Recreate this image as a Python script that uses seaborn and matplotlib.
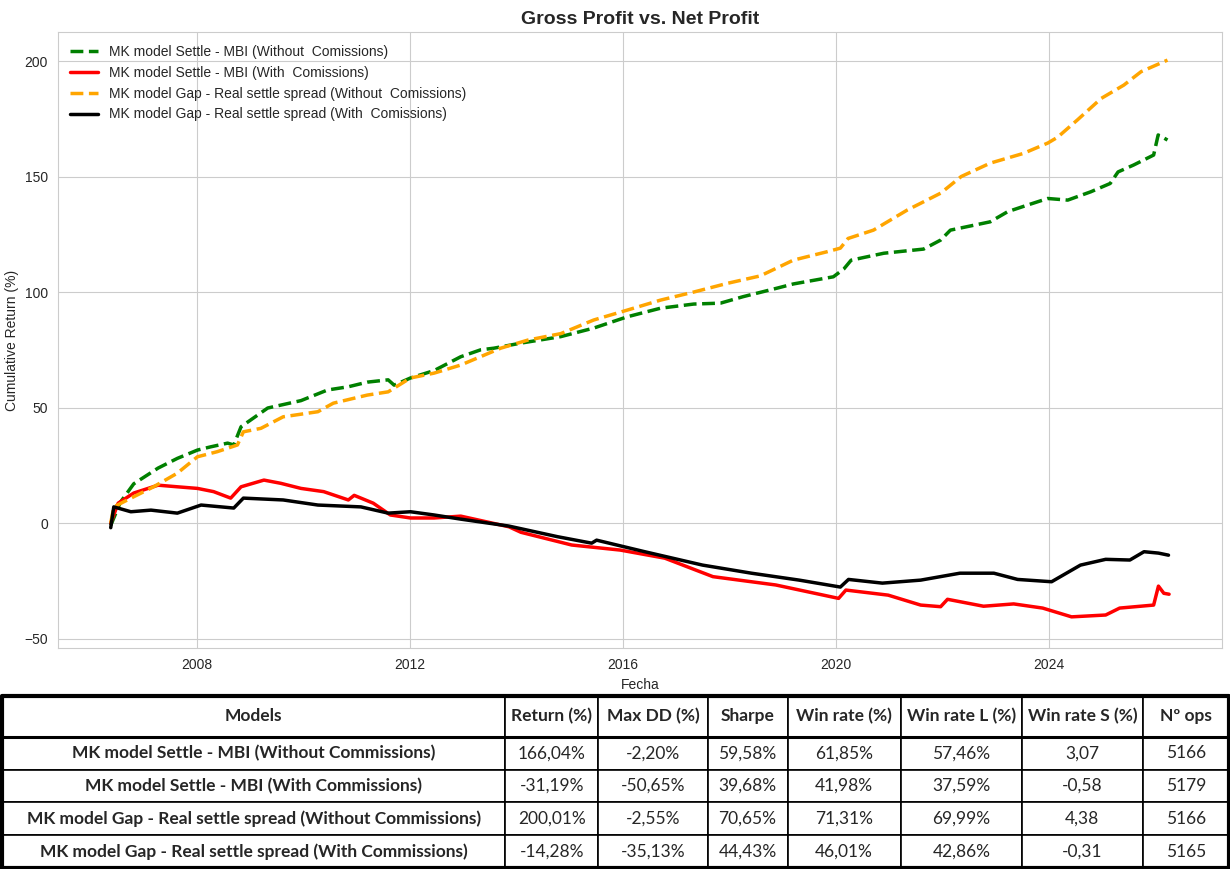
import pandas as pd
import matplotlib.pyplot as plt
import matplotlib.dates as mdates
import seaborn as sns

# Values (cumulative return, %)
settle_gross_dates = ['2006-05-20', '2006-07-25', '2006-10-25', '2007-04-10', '2007-08-20',
                      '2008-01-05', '2008-04-05', '2008-07-30', '2008-09-10', '2008-10-30',
                      '2009-05-01', '2009-12-15', '2010-06-15', '2010-11-05', '2011-03-15',
                      '2011-08-05', '2011-09-15', '2012-01-05', '2012-06-15', '2012-12-15',
                      '2013-05-01', '2013-07-30', '2014-02-01', '2014-11-01', '2015-06-15',
                      '2016-02-01', '2016-09-15', '2017-05-01', '2017-11-01', '2018-04-05',
                      '2018-11-25', '2019-03-15', '2019-12-15', '2020-02-25', '2020-04-15',
                      '2020-11-25', '2021-08-25', '2021-12-20', '2022-02-25', '2022-11-25',
                      '2023-03-25', '2023-08-10', '2023-12-25', '2024-05-10', '2024-10-15',
                      '2025-02-25', '2025-04-20', '2025-08-05', '2025-12-20', '2026-01-20',
                      '2026-02-20', '2026-03-25']
settle_gross = [-1, 9, 17, 23.8, 28, 31.6, 33, 34.6, 33.8, 41.7,
                49.8, 53, 57.6, 59, 61, 62, 59.7, 62.8, 66, 72,
                75, 75.7, 77.9, 80.7, 84.4, 89.3, 93, 94.8, 95.2, 98,
                101.7, 103.5, 106.6, 110, 113.8, 116.8, 118.6, 122.5, 126.8, 130.4,
                134.8, 137.7, 140.5, 139.8, 143.4, 147, 152, 155, 159.3, 168,
                167, 165.8]

settle_net_dates = ['2006-05-20', '2006-07-10', '2006-10-25', '2007-04-10', '2007-08-20',
                    '2008-01-05', '2008-04-25', '2008-08-20', '2008-10-30', '2009-04-05',
                    '2009-07-30', '2009-12-15', '2010-05-20', '2010-11-05', '2010-12-15',
                    '2011-04-25', '2011-08-20', '2012-01-05', '2012-06-15', '2012-12-15',
                    '2013-11-10', '2014-02-01', '2015-01-15', '2015-12-15', '2016-10-15',
                    '2017-09-10', '2018-11-15', '2020-01-20', '2020-03-10', '2020-12-25',
                    '2021-08-05', '2021-12-20', '2022-02-05', '2022-10-10', '2023-05-05',
                    '2023-11-20', '2024-06-05', '2025-01-25', '2025-05-01', '2025-12-20',
                    '2026-01-22', '2026-02-28', '2026-04-05']
settle_net = [0, 8.6, 13, 16.4, 15.7, 15, 13.6, 10.8, 15.7, 18.6,
              17.2, 15, 13.6, 10, 12, 8.6, 3.5, 2.2, 2.2, 3,
              -1.6, -4, -9.5, -11.7, -15.2, -23.2, -26.8, -32.6, -29, -31.2,
              -35.5, -36.2, -33, -36, -35, -36.8, -40.6, -39.8, -36.8, -35.5,
              -27.3, -30.4, -30.8]

gap_gross_dates = ['2006-05-20', '2006-06-10', '2006-10-25', '2007-03-10', '2007-08-20',
                   '2008-01-05', '2008-05-20', '2008-10-05', '2008-11-15', '2009-03-15',
                   '2009-08-15', '2010-04-10', '2010-07-25', '2011-03-15', '2011-08-05',
                   '2012-01-05', '2012-06-15', '2012-12-15', '2013-09-15', '2014-03-20',
                   '2014-11-01', '2015-06-15', '2016-02-01', '2016-09-15', '2017-05-01',
                   '2017-12-20', '2018-08-01', '2019-03-15', '2019-11-05', '2020-02-01',
                   '2020-03-25', '2020-09-15', '2021-05-05', '2021-12-20', '2022-05-10',
                   '2022-11-25', '2023-07-10', '2023-12-25', '2024-03-01', '2024-07-15',
                   '2024-12-25', '2025-05-30', '2025-09-25', '2026-03-25']
gap_gross = [0, 7, 11.4, 15.7, 21.6, 28.7, 30.9, 33.8, 39.5, 41,
             46, 48.2, 51.9, 55.4, 56.8, 62.8, 64.9, 68.4, 75.7, 79.2,
             82, 87.9, 92.2, 96.5, 100, 103.8, 107, 113.8, 117.5, 119,
             123.2, 126.8, 135.5, 142.8, 150, 155.8, 160, 164.5, 167, 174.5,
             183.8, 189.6, 195.4, 200.4]

gap_net_dates = ['2006-05-20', '2006-06-10', '2006-10-05', '2007-02-20', '2007-08-20',
                 '2008-01-30', '2008-09-10', '2008-11-15', '2009-08-15', '2010-04-10',
                 '2011-01-30', '2011-08-05', '2012-01-05', '2012-06-15', '2012-12-15',
                 '2013-11-10', '2014-10-10', '2015-06-01', '2015-07-05', '2016-05-30',
                 '2017-07-01', '2018-06-01', '2019-04-25', '2020-02-01', '2020-03-28',
                 '2020-11-15', '2021-08-05', '2022-05-01', '2022-12-20', '2023-06-01',
                 '2024-01-20', '2024-08-05', '2025-01-25', '2025-07-10', '2025-10-15',
                 '2026-01-22', '2026-04-01']
gap_net = [-2, 7, 4.9, 5.6, 4.3, 7.8, 6.5, 10.8, 10, 7.8,
           7, 4.3, 4.9, 3.5, 1.7, -1.3, -5.9, -8.7, -7.4, -12.4,
           -18.2, -21.7, -24.7, -27.7, -24.4, -26, -24.7, -21.7, -21.7, -24.4,
           -25.4, -18.2, -15.7, -16, -12.4, -13, -13.9]

series_labels = ['MK model Settle - MBI (Without  Comissions)',
                 'MK model Settle - MBI (With  Comissions)',
                 'MK model Gap - Real settle spread (Without  Comissions)',
                 'MK model Gap - Real settle spread (With  Comissions)']

table_columns = ['Models', 'Return (%)', 'Max DD (%)', 'Sharpe', 'Win rate (%)',
                 'Win rate L (%)', 'Win rate S (%)', 'Nº ops']
table_models = ['MK model Settle - MBI (Without Commissions)',
                'MK model Settle - MBI (With Commissions)',
                'MK model Gap - Real settle spread (Without Commissions)',
                'MK model Gap - Real settle spread (With Commissions)']
table_return = ['166,04%', '-31,19%', '200,01%', '-14,28%']
table_maxdd = ['-2,20%', '-50,65%', '-2,55%', '-35,13%']
table_sharpe = ['59,58%', '39,68%', '70,65%', '44,43%']
table_winrate = ['61,85%', '41,98%', '71,31%', '46,01%']
table_winrate_l = ['57,46%', '37,59%', '69,99%', '42,86%']
table_winrate_s = ['3,07', '-0,58', '4,38', '-0,31']
table_ops = ['5166', '5179', '5166', '5165']

sns.set_style('whitegrid')
plt.rcParams['font.family'] = ['Liberation Sans', 'DejaVu Sans']

fig = plt.figure(figsize=(12.3, 8.69), dpi=100)
ax = fig.add_axes([0.047, 0.254, 0.9465, 0.709])

series = [(settle_gross_dates, settle_gross, 'green', '--'),
          (settle_net_dates, settle_net, 'red', '-'),
          (gap_gross_dates, gap_gross, 'orange', '--'),
          (gap_net_dates, gap_net, 'black', '-')]

for (dates, vals, color, ls), label in zip(series, series_labels):
    df = pd.DataFrame({'Fecha': pd.to_datetime(dates), 'ret': vals})
    sns.lineplot(x='Fecha', y='ret', data=df, ax=ax, color=color,
                 linestyle=ls, linewidth=2.5, label=label)

ax.xaxis.set_major_locator(mdates.YearLocator(4))
ax.xaxis.set_major_formatter(mdates.DateFormatter('%Y'))
ax.set_ylim(-54.2, 212.5)
ax.set_title('Gross Profit vs. Net Profit', fontsize=14, fontweight='bold')
ax.set_xlabel('Fecha', fontsize=10)
ax.set_ylabel('Cumulative Return (%)', fontsize=10)
ax.tick_params(labelsize=10)
ax.legend(loc='upper left', frameon=False, fontsize=10)

# statistics table below the chart
tax = fig.add_axes([0.0016, 0.001, 0.9976, 0.198])
tax.axis('off')
cell_text = [list(r) for r in zip(table_models, table_return, table_maxdd, table_sharpe,
                                  table_winrate, table_winrate_l, table_winrate_s, table_ops)]
col_px = [503, 93, 109, 80, 113, 121, 121, 86]
col_w = [w / sum(col_px) for w in col_px]
tbl = tax.table(cellText=cell_text, colLabels=table_columns, colWidths=col_w,
                cellLoc='center', loc='center', bbox=[0, 0, 1, 1])
tbl.auto_set_font_size(False)
row_h = [41 / 173] + [33 / 173] * 4
for (r, c), cell in tbl.get_celld().items():
    cell.set_height(row_h[r])
    cell.set_linewidth(1.2)
    cell.set_edgecolor('black')
    txt = cell.get_text()
    txt.set_fontfamily(['Lato', 'DejaVu Sans'])
    txt.set_fontsize(12.5)
    if r == 0 or c == 0:
        txt.set_fontweight('bold')
# reposition rows since heights differ
y = 1.0
for r in range(5):
    y -= row_h[r]
    for c in range(8):
        tbl[r, c].set_y(y)
tax.plot([0, 1, 1, 0, 0], [0, 0, 1, 1, 0], color='black', lw=3, transform=tax.transAxes, clip_on=False)
tax.plot([0, 1], [1 - row_h[0]] * 2, color='black', lw=2.2, transform=tax.transAxes, clip_on=False)

fig.savefig('out.png', dpi=100)
